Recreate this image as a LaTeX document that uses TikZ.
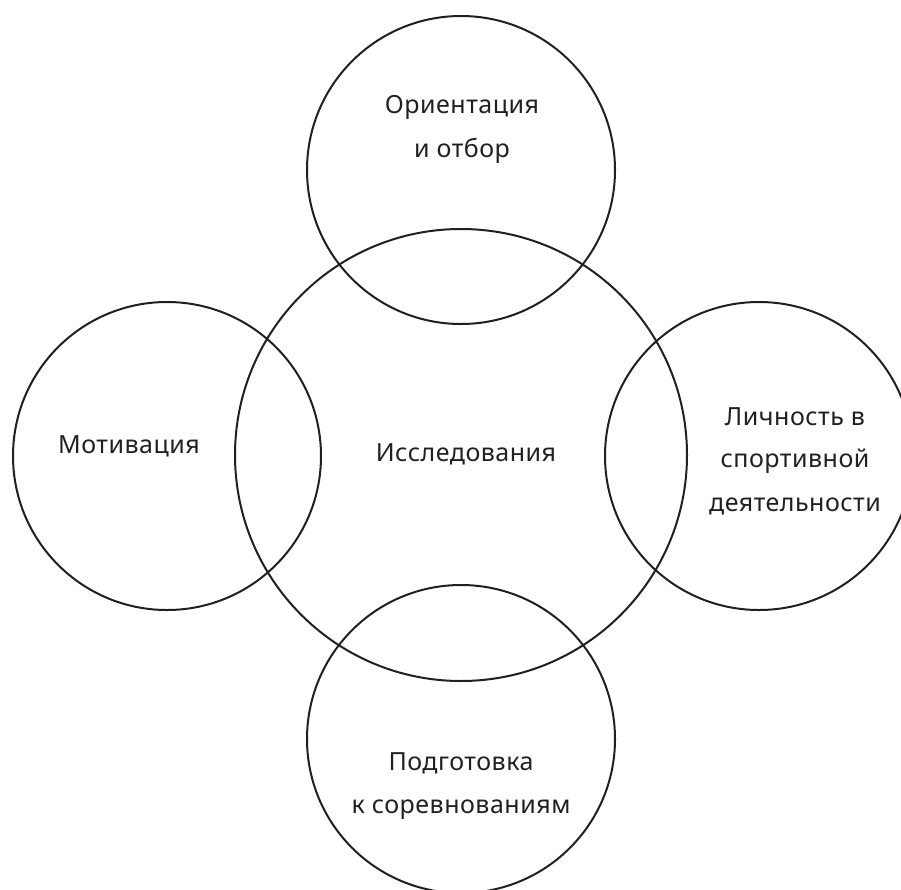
\documentclass[tikz,border=0pt]{standalone}
\usepackage{fontspec}
\setmainfont{Noto Sans}[LetterSpace=2]
\definecolor{ink}{HTML}{231F20}
\begin{document}
\begin{tikzpicture}[x=1pt,y=-1pt,
  ring/.style={circle,draw=ink,line width=2pt,inner sep=0pt,minimum size=308pt},
  bigring/.style={circle,draw=ink,line width=2pt,inner sep=0pt,minimum size=452pt},
  lbl/.style={anchor=base,text=ink,inner sep=0pt,font=\fontsize{25}{30}\selectfont}]
\useasboundingbox (0,0) rectangle (901,889);
\node[bigring] (c) at (461,455) {};
\node[ring] (t) at (461,170) {};
\node[ring] (l) at (167,456) {};
\node[ring] (r) at (759,456) {};
\node[ring] (b) at (461,739) {};
\node[lbl] (t1) at (462,113) {Ориентация};
\node[lbl] (t2) at (462,157) {и отбор};
\node[lbl] (l1) at (129,453) {Мотивация};
\node[lbl] (c1) at (466,461) {Исследования};
\node[lbl] (r1) at (795,425) {Личность в};
\node[lbl] (r2) at (795,467) {спортивной};
\node[lbl] (r3) at (795,511) {деятельности};
\node[lbl] (b1) at (461,770) {Подготовка};
\node[lbl] (b2) at (461,813) {к соревнованиям};
\end{tikzpicture}
\end{document}
